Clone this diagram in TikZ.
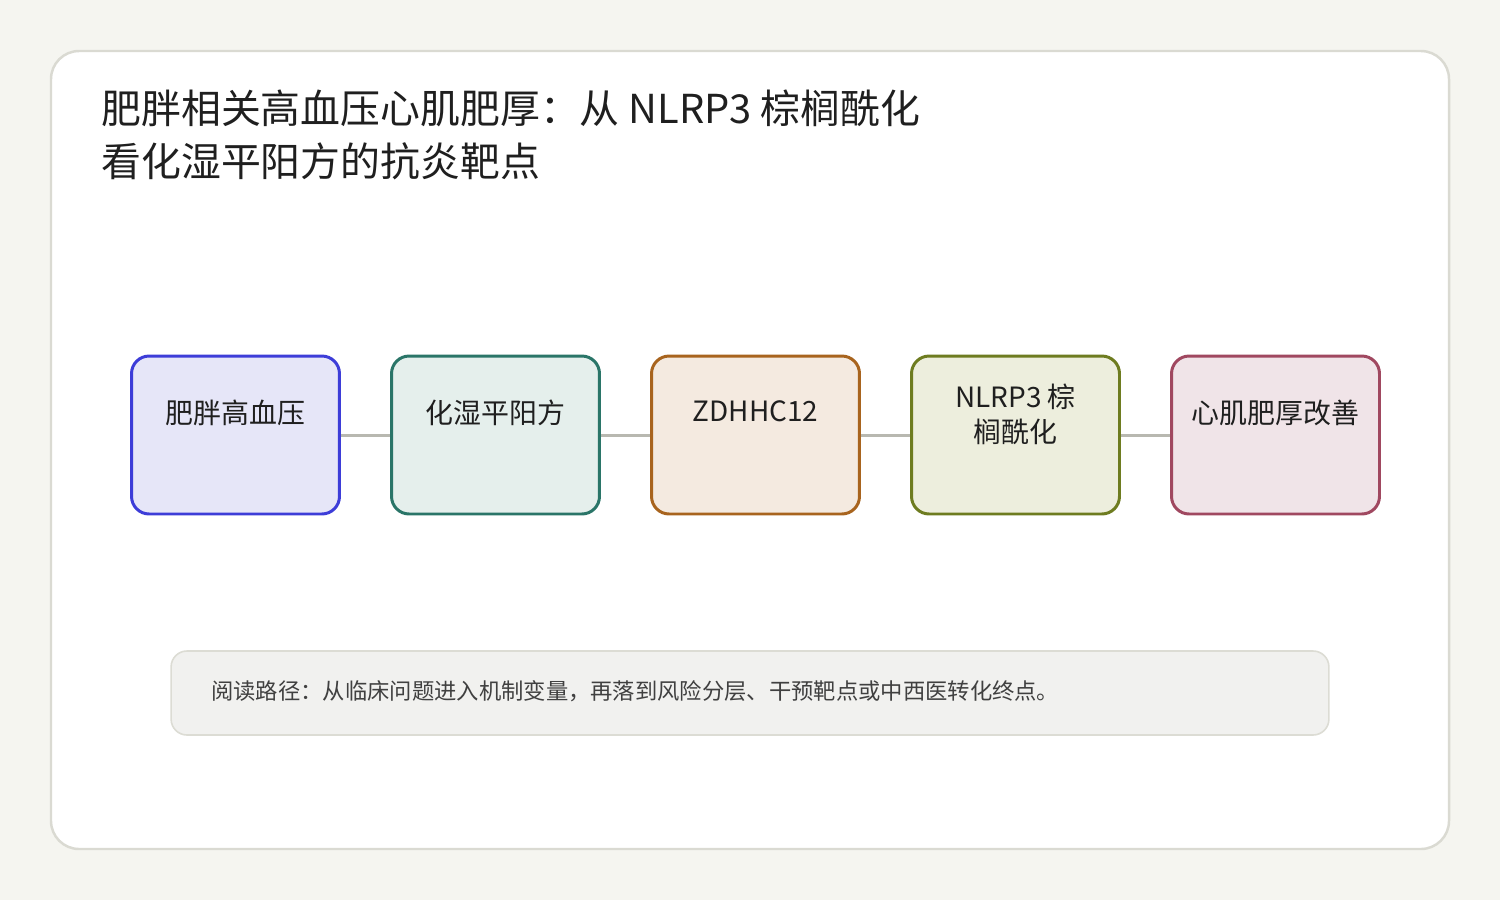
\documentclass[tikz,border=0pt]{standalone}
\usepackage{fontspec}
\setmainfont{Noto Sans CJK SC}
\begin{document}
\begin{tikzpicture}[x=0.02cm,y=-0.02cm,
  bx/.style={draw=#1, line width=1.7pt, rounded corners=10pt, minimum width=4.16cm, minimum height=3.16cm, inner sep=0pt},
  lbl/.style={text=black!88, font=\fontsize{15.9pt}{19.8pt}\selectfont, align=center, inner sep=0pt},
  conn/.style={draw=black!12!white!75!gray, line width=1.7pt}]
\definecolor{bgc}{HTML}{F5F5F0}
\definecolor{cardb}{HTML}{DADAD2}
\definecolor{c1b}{HTML}{3D3DD8}\definecolor{c1f}{HTML}{E6E6F8}
\definecolor{c2b}{HTML}{2A7568}\definecolor{c2f}{HTML}{E5EFEC}
\definecolor{c3b}{HTML}{A8641E}\definecolor{c3f}{HTML}{F4EAE0}
\definecolor{c4b}{HTML}{6E7C20}\definecolor{c4f}{HTML}{EDEEDD}
\definecolor{c5b}{HTML}{A04860}\definecolor{c5f}{HTML}{F0E4E8}
\definecolor{lnc}{HTML}{B8B8B0}
\definecolor{notef}{HTML}{F1F1EF}
\definecolor{noteb}{HTML}{DCDCD4}
\fill[bgc] (0,0) rectangle (1500,900);
\useasboundingbox (0,0) rectangle (1500,900);
\draw[cardb, fill=white, line width=1.4pt, rounded corners=16pt] (51,51) rectangle (1449,849);
\node[anchor=west, inner sep=0pt, text=black!88, font=\fontsize{22.7pt}{30.6pt}\selectfont, align=left] (title) at (101,135) {肥胖相关高血压心肌肥厚：从 NLRP3 棕榈酰化\\看化湿平阳方的抗炎靶点};
\node[bx=c1b, fill=c1f] (b1) at (235.5,435) {};
\node[bx=c2b, fill=c2f] (b2) at (495.5,435) {};
\node[bx=c3b, fill=c3f] (b3) at (755.5,435) {};
\node[bx=c4b, fill=c4f] (b4) at (1015.5,435) {};
\node[bx=c5b, fill=c5f] (b5) at (1275.5,435) {};
\draw[lnc, line width=1.7pt] (b1.east) -- (b2.west);
\draw[lnc, line width=1.7pt] (b2.east) -- (b3.west);
\draw[lnc, line width=1.7pt] (b3.east) -- (b4.west);
\draw[lnc, line width=1.7pt] (b4.east) -- (b5.west);
\node[lbl] (t1) at (235.5,413) {肥胖高血压};
\node[lbl] (t2) at (495.5,413) {化湿平阳方};
\node[lbl] (t3) at (755.5,411) {ZDHHC12};
\node[lbl] (t4) at (1015.5,414) {NLRP3 棕\\榈酰化};
\node[lbl] (t5) at (1275.5,413) {心肌肥厚改善};
\node[draw=noteb, fill=notef, line width=0.9pt, rounded corners=9pt, minimum width=23.16cm, minimum height=1.68cm, inner sep=0pt] (note) at (750,693) {};
\node[anchor=west, inner sep=0pt, text=black!75, font=\fontsize{12.7pt}{15pt}\selectfont] (notet) at (211,691) {阅读路径：从临床问题进入机制变量，再落到风险分层、干预靶点或中西医转化终点。};
\end{tikzpicture}
\end{document}
